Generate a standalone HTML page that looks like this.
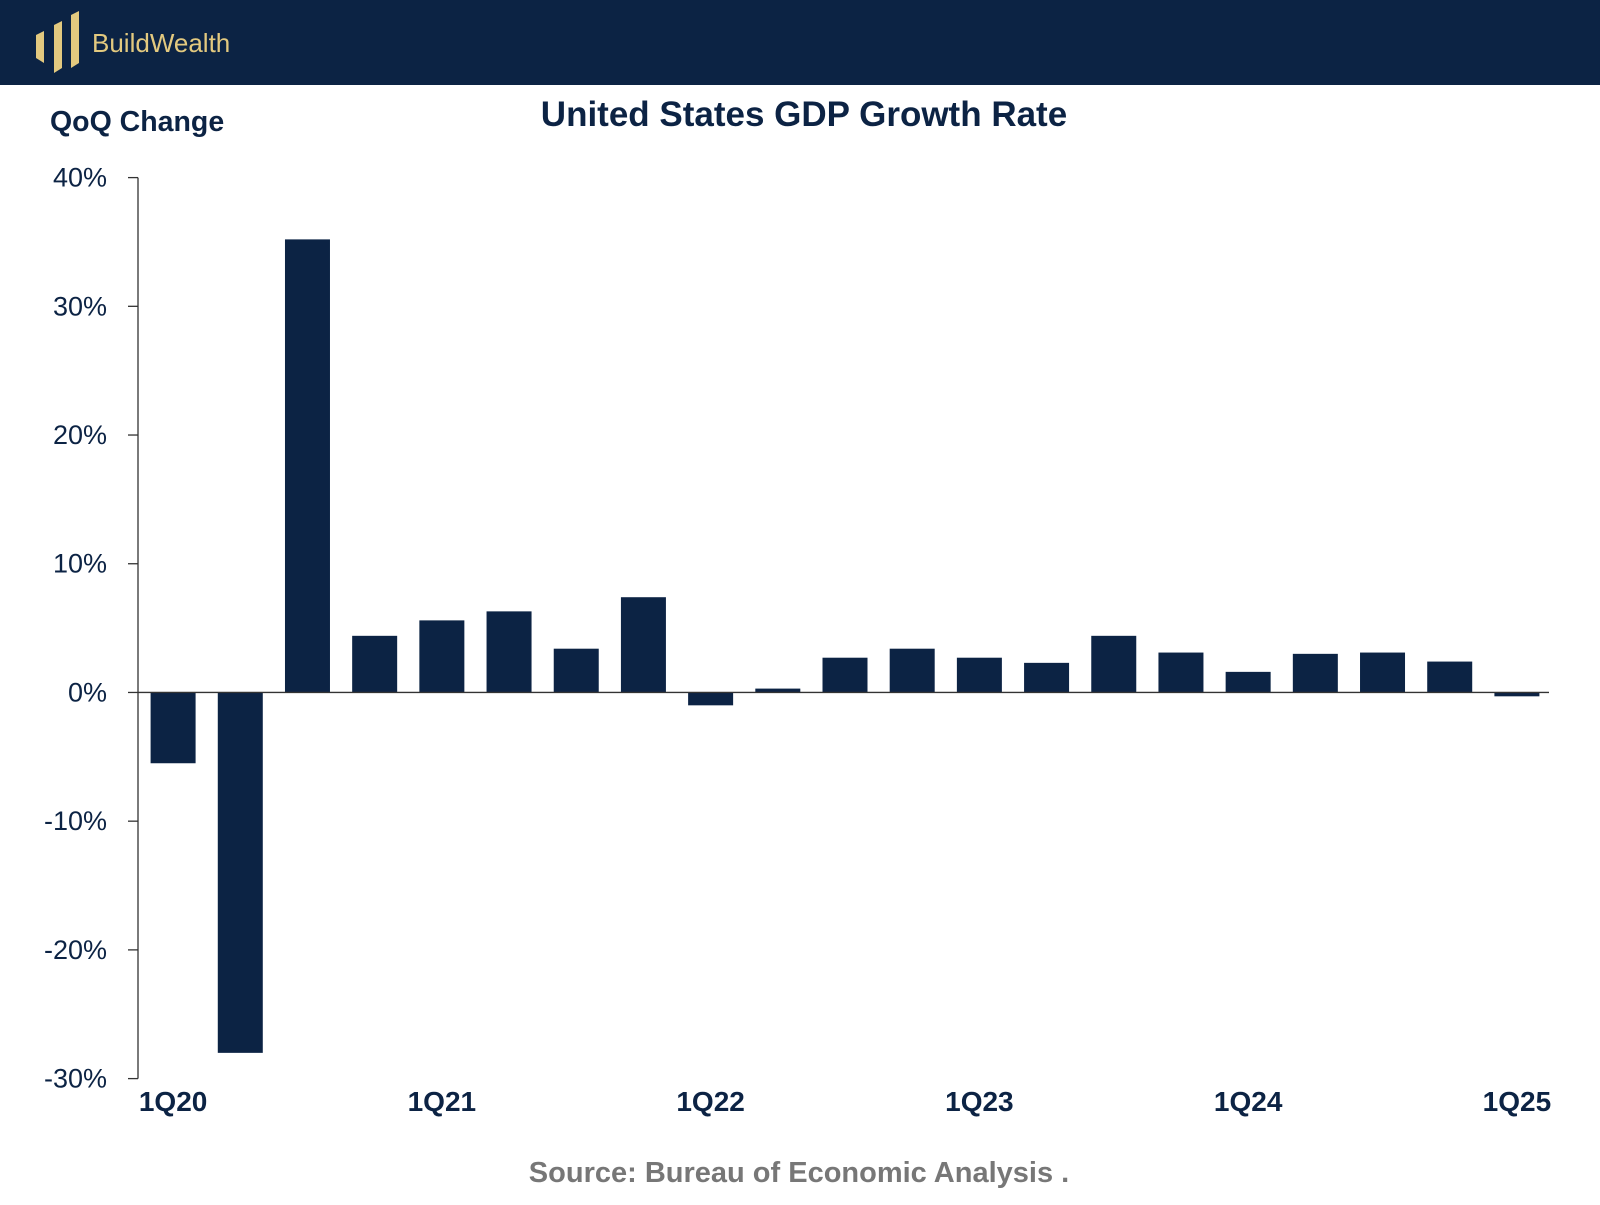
<!DOCTYPE html>
<html><head><meta charset="utf-8"><style>
body{margin:0;width:1600px;height:1200px;background:#fff;overflow:hidden;font-family:"Liberation Sans",sans-serif}
</style></head><body>
<svg width="1600" height="1200" xmlns="http://www.w3.org/2000/svg">
<rect x="0" y="0" width="1600" height="85" fill="#0c2344"/>
<g fill="#e3c97f">
<polygon points="36,35 44,31 44,63 36,58"/>
<polygon points="54,25 62,21 62,68 54,73"/>
<polygon points="71,15 79,11 79,63 71,68"/>
<text x="92" y="52" font-size="26" fill="#e3c97f">BuildWealth</text>
</g>
<text x="50" y="131" font-size="28.5" font-weight="bold" fill="#0c2344">QoQ Change</text>
<text x="804" y="126" text-anchor="middle" font-size="35" font-weight="bold" fill="#0c2344">United States GDP Growth Rate</text>
<g id="plot"></g>
<text x="799" y="1182" text-anchor="middle" font-size="29" font-weight="bold" fill="#777">Source: Bureau of Economic Analysis .</text>
</svg>
<script>
const categories=["1Q20","2Q20","3Q20","4Q20","1Q21","2Q21","3Q21","4Q21","1Q22","2Q22","3Q22","4Q22","1Q23","2Q23","3Q23","4Q23","1Q24","2Q24","3Q24","4Q24","1Q25"];
const values=[-5.5,-28,35.2,4.4,5.6,6.3,3.4,7.4,-1.0,0.3,2.7,3.4,2.7,2.3,4.4,3.1,1.6,3.0,3.1,2.4,-0.3];
const yTicks=[40,30,20,10,0,-10,-20,-30];
const xLabels=["1Q20","1Q21","1Q22","1Q23","1Q24","1Q25"];
const NS="http://www.w3.org/2000/svg";
const g=document.getElementById('plot');
const x0=138,x1=1549,yTop=177.6,yBot=1078.6;
const y=v=>yTop+(40-v)*(yBot-yTop)/70;
const step=(x1-x0)/categories.length;
const xc=i=>x0+1.5+step*(i+0.5);
function mk(t,a){const e=document.createElementNS(NS,t);for(const k in a)e.setAttribute(k,a[k]);g.appendChild(e);return e;}
values.forEach((v,i)=>{
 const r=mk('rect',{x:xc(i)-22.5,y:Math.min(y(v),y(0)),width:45,height:Math.max(1,Math.abs(y(v)-y(0))),fill:'#0c2344'});
 
 
});
const ax=mk('line',{x1:x0,x2:x0,y1:yTop,y2:yBot,stroke:'#333','stroke-width':1.3});


const zl=mk('line',{x1:x0,x2:x1,y1:y(0),y2:y(0),stroke:'#333','stroke-width':1.3});


yTicks.forEach(t=>{
 const tk=mk('line',{x1:x0-10,x2:x0,y1:y(t),y2:y(t),stroke:'#333','stroke-width':1.3});
 
 
 const l=mk('text',{x:107,y:y(t)+9,'text-anchor':'end','font-size':27,fill:'#0c2344'});
 l.textContent=t+'%';
 
 
});
xLabels.forEach(lb=>{
 const i=categories.indexOf(lb);
 const l=mk('text',{x:xc(i),y:1111,'text-anchor':'middle','font-size':28,'font-weight':'bold',fill:'#0c2344'});
 l.textContent=lb;
 
 
});
</script>
</body></html>
